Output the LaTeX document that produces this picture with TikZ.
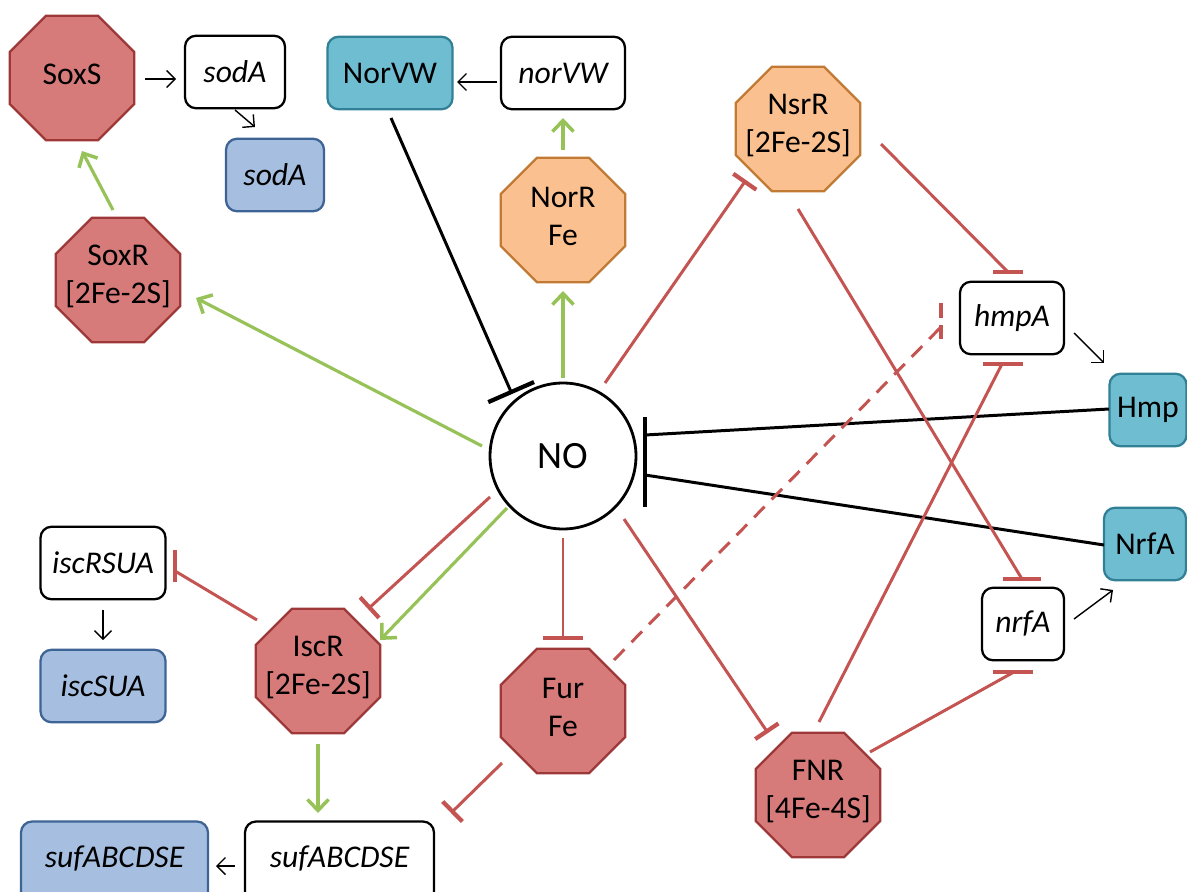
\documentclass[tikz,border=0pt]{standalone}
\usepackage{fontspec}
\setmainfont{Carlito}
\usetikzlibrary{shapes.geometric,arrows.meta,calc}
\definecolor{redfill}{RGB}{214,122,122}
\definecolor{redborder}{RGB}{158,56,56}
\definecolor{orfill}{RGB}{250,192,144}
\definecolor{orborder}{RGB}{192,122,52}
\definecolor{tealfill}{RGB}{110,189,209}
\definecolor{tealborder}{RGB}{49,128,150}
\definecolor{bluefill}{RGB}{166,191,224}
\definecolor{blueborder}{RGB}{62,100,150}
\definecolor{greenline}{RGB}{150,194,88}
\definecolor{redline}{RGB}{196,84,82}
\begin{document}
\begin{tikzpicture}[x=0.02cm,y=-0.02cm,
  txt/.style={font=\fontsize{18}{21.5}\selectfont},
  octlabel/.style={txt,align=center,inner sep=0pt,yshift=2pt},
  oct/.style={regular polygon,regular polygon sides=8,minimum size=2.7cm,inner sep=0pt,line width=1.3pt},
  redoct/.style={oct,fill=redfill,draw=redborder},
  oroct/.style={oct,fill=orfill,draw=orborder},
  box/.style={txt,rectangle,rounded corners=0.22cm,inner sep=0pt,line width=1.3pt,minimum height=1.45cm},
  genebox/.style={box,draw=black,fill=white,font=\fontsize{18}{21.5}\selectfont\itshape},
  protbox/.style={box,draw=tealborder,fill=tealfill},
  mrnabox/.style={box,draw=blueborder,fill=bluefill,font=\fontsize{18}{21.5}\selectfont\itshape},
  garrow/.style={draw=greenline,line width=1.8pt,-{Straight Barb[length=0.22cm,width=0.42cm,line width=2pt]}},
  tarrow/.style={draw=black,line width=0.8pt,-{Straight Barb[length=0.17cm,width=0.34cm]}},
  rinh/.style={draw=redline,line width=1.7pt},
  rbar/.style={draw=redline,line width=2.4pt},
  binh/.style={draw=black,line width=1.7pt}
]
\useasboundingbox (0,0) rectangle (1187,892);

% central node
\node[circle,draw=black,fill=white,line width=1.6pt,minimum size=2.92cm,inner sep=0pt,font=\fontsize{22}{26}\selectfont] (NO) at (563,456) {NO};

% octagons
\node[redoct,label={[octlabel]center:{SoxS}}] (SoxS) at (72,78) {};
\node[redoct,label={[octlabel]center:{SoxR\\{}[2Fe-2S]}}] (SoxR) at (118,280) {};
\node[oroct,label={[octlabel]center:{NorR\\Fe}}] (NorR) at (563,220) {};
\node[oroct,label={[octlabel]center:{NsrR\\{}[2Fe-2S]}}] (NsrR) at (798,129) {};
\node[redoct,label={[octlabel]center:{IscR\\{}[2Fe-2S]}}] (IscR) at (318,671) {};
\node[redoct,label={[octlabel]center:{Fur\\Fe}}] (Fur) at (563,711) {};
\node[redoct,label={[octlabel]center:{FNR\\{}[4Fe-4S]}}] (FNR) at (818,795) {};

% boxes
\node[genebox,minimum width=2.0cm] (sodAg) at (235,72) {sodA};
\node[mrnabox,minimum width=1.96cm] (sodAp) at (275,175) {sodA};
\node[protbox,minimum width=2.5cm] (NorVW) at (390,73) {NorVW};
\node[genebox,minimum width=2.48cm] (norVW) at (563,73) {norVW};
\node[genebox,minimum width=2.08cm] (hmpA) at (1012,318) {hmpA};
\node[protbox,minimum width=1.54cm] (Hmp) at (1148,410) {Hmp};
\node[protbox,minimum width=1.64cm] (NrfA) at (1145,544) {NrfA};
\node[genebox,minimum width=1.64cm] (nrfA) at (1023,624) {nrfA};
\node[genebox,minimum width=2.5cm] (iscRSUA) at (103,563) {iscRSUA};
\node[mrnabox,minimum width=2.5cm] (iscSUA) at (103,686) {iscSUA};
\node[mrnabox,minimum width=3.74cm,minimum height=1.62cm,text depth=0.2cm] (sufB) at (114.5,862) {sufABCDSE};
\node[genebox,minimum width=3.78cm,minimum height=1.62cm,text depth=0.2cm] (sufW) at (339.5,862) {sufABCDSE};

% thin black arrows
\draw[tarrow] ($(SoxS)+(73,1)$) -- ($(sodAg)+(-59,7)$);
\draw[tarrow] ($(sodAg)+(0,38)$) -- ($(sodAp)+(-20,-48)$);
\draw[tarrow] ($(norVW)+(-66,9)$) -- ($(NorVW)+(67,9)$);
\draw[tarrow] ($(iscRSUA)+(0,47)$) -- ($(iscSUA)+(0,-46)$);
\draw[tarrow] ($(sufW)+(-104.5,4)$) -- ($(sufB)+(101.5,4)$);
\draw[tarrow] ($(hmpA)+(62,15)$) -- ($(Hmp)+(-44,-47)$);
\draw[tarrow] ($(nrfA)+(51,-5)$) -- ($(NrfA)+(-32,46)$);

% green activation arrows
\draw[garrow] ($(NorR)+(0,-70)$) -- ($(norVW)+(0,45)$);
\draw[garrow] ($(NO)+(0,-78)$) -- ($(NorR)+(0,71)$);
\draw[garrow] ($(NO)+(-81,-10)$) -- ($(SoxR)+(78,18)$);
\draw[garrow] ($(SoxR)+(-5,-70)$) -- ($(SoxS)+(10,73)$);
\draw[garrow] ($(NO)+(-56,52)$) -- ($(IscR)+(62,-31)$);
\draw[garrow] ($(IscR)+(0,73)$) -- ($(sufW)+(-21.5,-49)$);

% black inhibitions onto NO
\draw[binh,-{Bar[width=1cm,line width=2.4pt]}] ($(NorVW)+(1,45)$) -- ($(NO)+(-51,-62)$);
\coordinate (nobarA) at ($(NO)+(82,-39)$);
\coordinate (nobarB) at ($(NO)+(82,51)$);
\draw[binh] ($(Hmp)+(-39,-1)$) -- ($(NO)+(82,-21)$);
\draw[binh] ($(NrfA)+(-41,1)$) -- ($(NO)+(82,19)$);
\draw[draw=black,line width=2.6pt] (nobarA) -- (nobarB);

% red inhibitions
\draw[rinh,-{Bar[width=0.56cm,line width=2.4pt]}] ($(NO)+(42,-73)$) -- ($(NsrR)+(-52,51)$);
\draw[rinh,-{Bar[width=0.8cm,line width=2.4pt]}] ($(NO)+(0,82)$) -- ($(Fur)+(0,-71)$);
\draw[rinh,-{Bar[width=0.56cm,line width=2.4pt]}] ($(NO)+(61,63)$) -- ($(FNR)+(-50,-62)$);
\draw[rinh,-{Bar[width=0.56cm,line width=2.4pt]}] ($(NO)+(-73,41)$) -- ($(IscR)+(50,-62)$);
\draw[rinh,-{Bar[width=0.56cm,line width=2.4pt]}] ($(Fur)+(-61,52)$) -- ($(sufW)+(111.5,-49)$);

\draw[rinh] ($(NsrR)+(83,15)$) -- ($(hmpA)+(-4,-46)$);
\draw[rbar] ($(hmpA)+(-19,-46)$) -- ($(hmpA)+(11,-46)$);
\draw[rinh] ($(NsrR)+(0,80)$) -- ($(nrfA)+(-1,-45)$);
\draw[rbar] ($(nrfA)+(-20,-45)$) -- ($(nrfA)+(18,-45)$);
\draw[rinh] ($(FNR)+(1,-73)$) -- ($(hmpA)+(-10,46)$);
\draw[rbar] ($(hmpA)+(-29,46)$) -- ($(hmpA)+(11,46)$);
\draw[rinh] ($(FNR)+(52,-43)$) -- ($(nrfA)+(-9,48)$);
\draw[rbar] ($(nrfA)+(-30,48)$) -- ($(nrfA)+(10,48)$);
\draw[rinh] ($(IscR)+(-61,-51)$) -- ($(iscRSUA)+(72,8)$);
\draw[rbar] ($(iscRSUA)+(72,-13)$) -- ($(iscRSUA)+(72,19)$);

% dashed inhibition Fur -> hmpA
\draw[rinh,dash pattern=on 0.3cm off 0.2cm] ($(Fur)+(51,-51)$) -- ($(hmpA)+(-71,9)$);
\draw[rbar,dash pattern=on 0.3cm off 0.15cm] ($(hmpA)+(-71,-15)$) -- ($(hmpA)+(-71,21)$);
\end{tikzpicture}
\end{document}
